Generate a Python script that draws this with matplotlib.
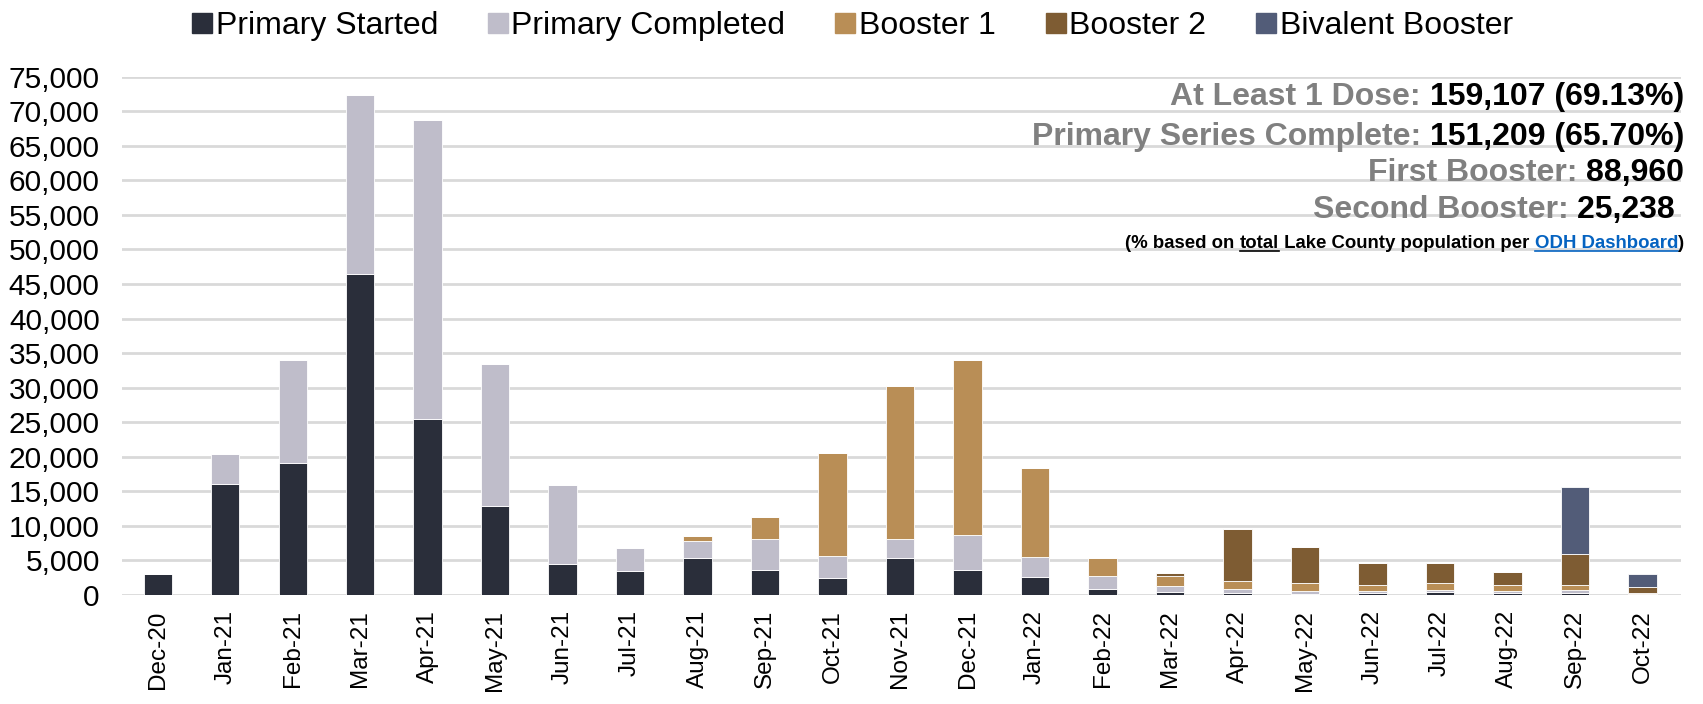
import numpy as np
import matplotlib
matplotlib.use("Agg")
import matplotlib.pyplot as plt
from matplotlib.lines import Line2D

plt.rcParams["font.family"] = ["Liberation Sans", "DejaVu Sans"]

months = ["Dec-20", "Jan-21", "Feb-21", "Mar-21", "Apr-21", "May-21", "Jun-21",
          "Jul-21", "Aug-21", "Sep-21", "Oct-21", "Nov-21", "Dec-21", "Jan-22",
          "Feb-22", "Mar-22", "Apr-22", "May-22", "Jun-22", "Jul-22", "Aug-22",
          "Sep-22", "Oct-22"]

primary_started = [2950, 16000, 19100, 46400, 25500, 12870, 4440, 3430, 5310, 3670,
                   2420, 5410, 3670, 2660, 780, 440, 290, 150, 290, 440, 290, 290, 50]
primary_completed = [0, 4350, 14960, 26000, 43200, 20600, 11400, 3380, 2500, 4450,
                     3280, 2750, 5000, 2860, 1890, 870, 490, 430, 240, 290, 240, 390, 50]
booster_1 = [0, 0, 0, 0, 0, 0, 0, 0, 770, 3100, 14800, 22100, 25300, 12890,
             2710, 1360, 1210, 1070, 920, 1010, 920, 770, 100]
booster_2 = [0, 0, 0, 0, 0, 0, 0, 0, 0, 0, 0, 0, 0, 0, 0, 440, 7560, 5280,
             3100, 2860, 1840, 4460, 870]
bivalent = [0] * 21 + [9640, 1890]

series_names = ["Primary Started", "Primary Completed", "Booster 1", "Booster 2",
                "Bivalent Booster"]
colors = ["#2A2E3A", "#BFBDCA", "#B98E56", "#7E5C33", "#525C78"]

stats_labels = ["At Least 1 Dose: ", "Primary Series Complete: ", "First Booster: ",
                "Second Booster: "]
stats_values = ["159,107 (69.13%)", "151,209 (65.70%)", "88,960", "25,238 "]

fig = plt.figure(figsize=(17.03, 7.04), dpi=100)
ax = fig.add_axes([0.0716, 0.155, 0.9154, 0.736])

x = np.arange(len(months))
bottom = np.zeros(len(months))
all_series = [primary_started, primary_completed, booster_1, booster_2, bivalent]
for name, vals, c in zip(series_names, all_series, colors):
    vals = np.array(vals, dtype=float)
    ax.bar(x, vals, 0.42, bottom=bottom, color=c, edgecolor="white",
           linewidth=0.6, zorder=3, label=name)
    bottom += vals

ax.set_ylim(0, 75000)
ax.set_xlim(-0.53, 22.57)
ax.set_yticks(np.arange(0, 75001, 5000))
ax.set_yticklabels([f"{v:,}" for v in range(0, 75001, 5000)])
ax.set_xticks(x)
ax.set_xticklabels(months, rotation=90)
ax.tick_params(axis="y", length=0, pad=16, labelsize=21.5)
ax.tick_params(axis="x", length=0, pad=11, labelsize=17.5)
ax.grid(axis="y", color="#D9D9D9", linewidth=2, zorder=0)
for s in ax.spines.values():
    s.set_visible(False)

handles = [Line2D([], [], marker="s", linestyle="none", markersize=15,
                  markerfacecolor=c, markeredgecolor=c) for c in colors]
fig.legend(handles, series_names, loc="upper center", bbox_to_anchor=(0.5, 1.025),
           ncol=5, frameon=False, fontsize=23, handletextpad=0.05,
           columnspacing=1.5, handlelength=0.75)

# summary text, right aligned: black value, gray label to its left
fig.canvas.draw()
renderer = fig.canvas.get_renderer()
right = 1684 / 1703
ys = [1 - 97 / 704, 1 - 137 / 704, 1 - 173 / 704, 1 - 210 / 704]
for lab, val, yy in zip(stats_labels, stats_values, ys):
    t = fig.text(right, yy, val, ha="right", va="center", fontsize=23,
                 fontweight="bold", color="black")
    bb = t.get_window_extent(renderer)
    x0 = bb.x0 / fig.bbox.width
    fig.text(x0, yy, lab, ha="right", va="center", fontsize=23,
             fontweight="bold", color="#808080")

# footnote with underlined words
yy = 1 - 243 / 704
parts = [("(% based on ", "black", False), ("total", "black", True),
         (" Lake County population per ", "black", False),
         ("ODH Dashboard", "#0563C1", True), (")", "black", False)]
widths = []
for txt, c, u in parts:
    t = fig.text(0, 0, txt, fontsize=13.4, fontweight="bold")
    widths.append(t.get_window_extent(renderer).width / fig.bbox.width)
    t.remove()
xpos = right - sum(widths)
for (txt, c, u), w in zip(parts, widths):
    t = fig.text(xpos, yy, txt, ha="left", va="center", fontsize=13.4,
                 fontweight="bold", color=c)
    if u:
        bb = t.get_window_extent(renderer)
        yl = (bb.y0 + 1) / fig.bbox.height
        fig.add_artist(Line2D([xpos, xpos + w], [yl, yl], color=c, linewidth=1.2,
                              transform=fig.transFigure))
    xpos += w

fig.savefig("out.png", dpi=100)
